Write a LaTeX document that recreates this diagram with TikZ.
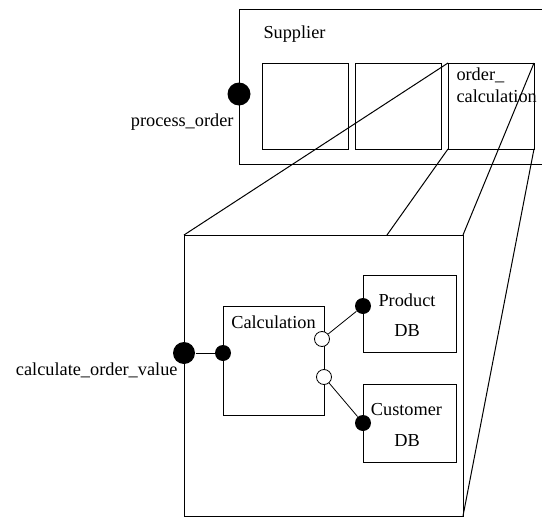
\documentclass[tikz,border=0pt]{standalone}
\usepackage{fontspec}
\setmainfont{Liberation Serif}
\begin{document}
\begin{tikzpicture}[x=1pt,y=-1pt,line width=1pt,
  box/.style={draw,rectangle,inner sep=0pt,outer sep=0pt,anchor=north west},
  lbl/.style={inner sep=0pt,font=\fontsize{18.3}{22}\selectfont},
  bigdot/.style={circle,fill,inner sep=0pt,minimum size=23pt},
  dot/.style={circle,fill,inner sep=0pt,minimum size=16pt},
  hollow/.style={circle,draw,fill=white,inner sep=0pt,minimum size=15pt,line width=0.8pt},
  edge/.style={line width=0.8pt}]
\useasboundingbox (0,0) rectangle (542,517);
\clip (0,0) rectangle (542,517);

% Supplier component with its three parts
\node[box,minimum width=330pt,minimum height=155pt] (supplier) at (239,9) {};
\node[box,minimum width=86pt,minimum height=86pt] (part1) at (262,63) {};
\node[box,minimum width=86pt,minimum height=86pt] (part2) at (355,63) {};
\node[box,minimum width=86pt,minimum height=86pt] (ordercalc) at (448,63) {};
\node[lbl,anchor=base west] (suppliertxt) at (263,38) {Supplier};
\node[lbl,anchor=base west] (ordertxt) at (456,80) {order\_};
\node[lbl,anchor=base west] (calctxt) at (456,102) {calculation};
\node[bigdot] (po) at (239,94) {};
\node[lbl,anchor=base east] (potxt) at (234,126) {process\_order};

% Expanded view of order_calculation
\node[box,fill=white,minimum width=279pt,minimum height=281pt] (detail) at (184,235) {};
\coordinate (topmid) at (387,235);
\draw (ordercalc.north west) -- (detail.north west);
\draw (ordercalc.south west) -- (topmid);
\draw (ordercalc.north east) -- (detail.north east);
\draw (ordercalc.south east) -- (detail.south east);

% Inner components
\node[box,minimum width=101pt,minimum height=109pt] (calc) at (223,306) {};
\node[lbl,anchor=base] (calcname) at (273.5,328) {Calculation};
\node[box,minimum width=93pt,minimum height=77pt] (prod) at (363,275) {};
\node[lbl,anchor=base] (prodname) at (407,306) {Product};
\node[lbl,anchor=base] (proddb) at (407,336) {DB};
\node[box,minimum width=93pt,minimum height=78pt] (cust) at (363,384) {};
\node[lbl,anchor=base] (custname) at (406.5,415) {Customer};
\node[lbl,anchor=base] (custdb) at (407,446) {DB};

% Ports and connectors
\node[bigdot,minimum size=22pt] (cov) at (184,353) {};
\node[lbl,anchor=base east] (covtxt) at (178,375) {calculate\_order\_value};
\node[dot] (cin) at (223,353) {};
\draw[edge] (cov) -- (cin);
\node[hollow] (req1) at (322,339) {};
\node[hollow] (req2) at (324,377) {};
\node[dot] (pport) at (363,306) {};
\node[dot] (cport) at (363,423) {};
\draw[edge] (req1) -- (pport);
\draw[edge] (req2) -- (cport);
\end{tikzpicture}
\end{document}
